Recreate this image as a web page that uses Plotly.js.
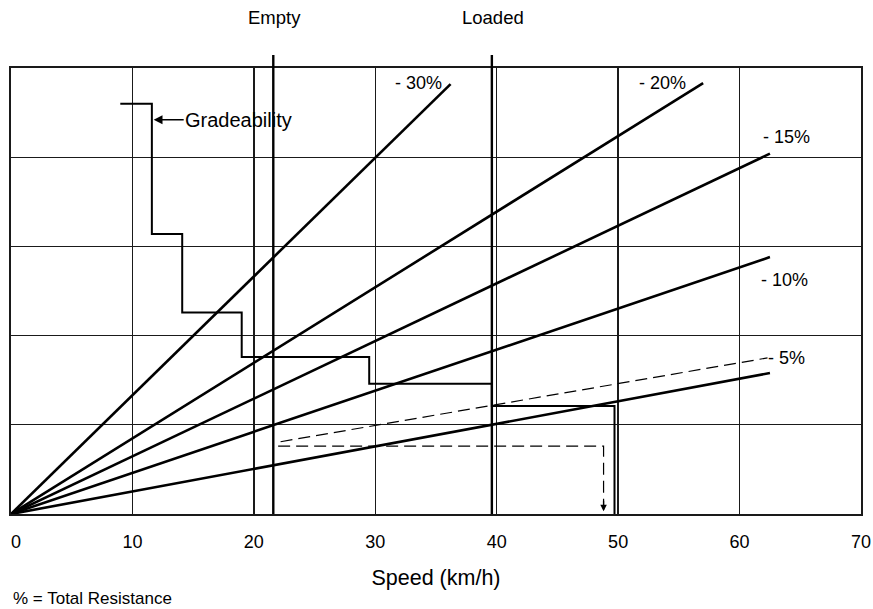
<!DOCTYPE html>
<html>
<head>
<meta charset="utf-8">
<script src="https://cdn.plot.ly/plotly-3.0.1.min.js"></script>
<style>html,body{margin:0;padding:0;background:#fff;}#chart{width:873px;height:609px;}</style>
</head>
<body>
<div id="chart"></div>
<script>
// Total resistance lines (all start at origin)
const resistanceLabels = ['- 30%', '- 20%', '- 15%', '- 10%', '- 5%'];
const resistanceEndSpeed = [36.2, 57.0, 62.5, 62.5, 62.5];
const resistanceEndValue = [4.82, 4.83, 4.04, 2.88, 1.58];

// Gradeability step curve
const gradeSpeed = [9.0, 11.6, 11.6, 14.1, 14.1, 19.0, 19.0, 29.5, 29.5, 39.6, 39.6, 49.7, 49.7];
const gradeValue = [4.60, 4.60, 3.14, 3.14, 2.26, 2.26, 1.76, 1.76, 1.46, 1.46, 1.21, 1.21, 0];

// Empty / Loaded reference speeds
const emptySpeed = 21.6;
const loadedSpeed = 39.6;

// Dashed resistance line and projection
const dashedSpeed = [22.2, 62.3];
const dashedValue = [0.81, 1.75];
const projSpeed = [22.0, 48.8, 48.8];
const projValue = [0.76, 0.76, 0.06];

const xTicks = [0, 10, 20, 30, 40, 50, 60, 70];
const xTickText = ['\u00a0\u00a00', '10', '20', '30', '40', '50', '60', '70'];

const FONT = 'Liberation Sans, Arial, Helvetica, sans-serif';
const traces = [];
resistanceEndSpeed.forEach((s, i) => {
  traces.push({x: [0, s], y: [0, resistanceEndValue[i]], mode: 'lines', type: 'scatter',
    line: {color: '#000', width: 2.6}, hoverinfo: 'skip', name: resistanceLabels[i]});
});
traces.push({x: gradeSpeed, y: gradeValue, mode: 'lines', type: 'scatter',
  line: {color: '#000', width: 2}, hoverinfo: 'skip', name: 'Gradeability'});
traces.push({x: dashedSpeed, y: dashedValue, mode: 'lines', type: 'scatter',
  line: {color: '#000', width: 1.2, dash: '12px,6px'}, hoverinfo: 'skip'});
traces.push({x: projSpeed, y: projValue, mode: 'lines', type: 'scatter',
  line: {color: '#000', width: 1.2, dash: '12px,6px'}, hoverinfo: 'skip'});

// paper coordinate helpers for text placement
const px = p => (p - 11) / 850;
const py = p => (514 - p) / 446;

const labelPos = [[418, 83], [662, 83], [786, 137], [784, 280], [786, 358]];
const annotations = resistanceLabels.map((t, i) => ({
  xref: 'paper', yref: 'paper', x: px(labelPos[i][0]), y: py(labelPos[i][1]),
  text: t, showarrow: false, font: {family: FONT, size: 18, color: '#000'},
  xanchor: 'center', yanchor: 'middle'
}));
annotations.push({xref: 'paper', yref: 'paper', x: px(274), y: py(18), text: 'Empty',
  showarrow: false, xanchor: 'center', yanchor: 'middle', font: {family: FONT, size: 18.5, color: '#000'}});
annotations.push({xref: 'paper', yref: 'paper', x: px(493), y: py(18), text: 'Loaded',
  showarrow: false, xanchor: 'center', yanchor: 'middle', font: {family: FONT, size: 18.5, color: '#000'}});
annotations.push({xref: 'x', yref: 'y', x: gradeSpeed[1] + 0.15, y: 4.42, text: 'Gradeability',
  showarrow: true, ax: 85, ay: 0, arrowhead: 2, arrowsize: 1.1, arrowwidth: 1.6, arrowcolor: '#000',
  standoff: 0, font: {family: FONT, size: 20, color: '#000'}});
annotations.push({xref: 'x', yref: 'y', x: projSpeed[2], y: 0.03, text: '',
  showarrow: true, ax: 0, ay: -12, arrowhead: 2, arrowsize: 1, arrowwidth: 1.3, arrowcolor: '#000', standoff: 0});
annotations.push({xref: 'paper', yref: 'paper', x: px(11), y: py(598), text: '% = Total Resistance',
  showarrow: false, xanchor: 'left', yanchor: 'middle', font: {family: FONT, size: 17, color: '#000'}});

const shapes = [emptySpeed, loadedSpeed].map(s => ({
  type: 'line', xref: 'x', yref: 'paper', x0: s, x1: s, y0: 0, y1: py(55),
  line: {color: '#000', width: 2.4}
}));

const layout = {
  width: 873, height: 609,
  margin: {l: 11, r: 12, t: 68, b: 95, pad: 0},
  paper_bgcolor: '#fff', plot_bgcolor: '#fff',
  showlegend: false,
  font: {family: FONT, color: '#000'},
  xaxis: {
    range: [0, 70], tickvals: xTicks, ticktext: xTickText, ticks: '',
    showgrid: true, gridcolor: '#1a1a1a', gridwidth: 1.3, zeroline: false,
    showline: true, mirror: true, linecolor: '#1a1a1a', linewidth: 1.6,
    tickfont: {family: FONT, size: 18, color: '#000'}, ticklabelstandoff: 11,
    ticklabeloverflow: 'allow',
    title: {text: 'Speed (km/h)', font: {family: FONT, size: 21.5, color: '#000'}, standoff: 19},
    fixedrange: true
  },
  yaxis: {
    range: [0, 5], dtick: 1, tick0: 0, showticklabels: false, ticks: '',
    showgrid: true, gridcolor: '#1a1a1a', gridwidth: 1.3, zeroline: false,
    showline: true, mirror: true, linecolor: '#1a1a1a', linewidth: 1.6, fixedrange: true
  },
  annotations: annotations,
  shapes: shapes
};

Plotly.newPlot('chart', traces, layout, {displayModeBar: false, staticPlot: true});
</script>
</body>
</html>
